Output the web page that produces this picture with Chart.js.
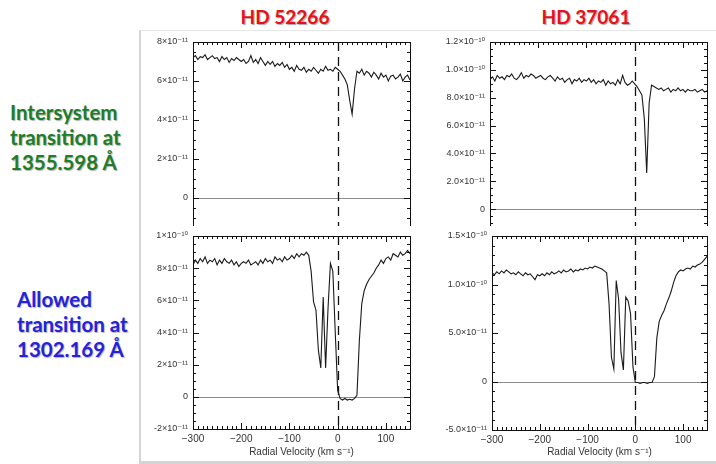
<!DOCTYPE html>
<html>
<head>
<meta charset="utf-8">
<script src="https://cdn.jsdelivr.net/npm/chart.js@4.4.1/dist/chart.umd.min.js"></script>
<style>
  body { margin: 0; background: #fff; width: 716px; height: 464px; overflow: hidden; position: relative; font-family: Lato, "Liberation Sans", sans-serif; }
  canvas { position: absolute; }
  .star { position: absolute; top: 5px; width: 140px; text-align: center; font: bold 19px Lato, sans-serif; color: #e8101a; text-shadow: 1px 1px 1px rgba(0,0,0,0.35); }
  .lab { position: absolute; font: bold 20.5px/25px Lato, sans-serif; text-shadow: 1px 1px 1px rgba(0,0,0,0.3); }
  #box { position: absolute; left: 139px; top: 30px; width: 580px; height: 430px; border-left: 2px solid #d4d4d4; border-top: 1px solid #e6e6e6; border-bottom: 3px solid #d4d4d4; pointer-events: none; z-index: 5; }
</style>
</head>
<body>
<div class="star" style="left:215px">HD 52266</div>
<div class="star" style="left:516px">HD 37061</div>
<div class="lab" style="left:10px; top:100px; color:#1e7d2a">Intersystem<br>transition at<br>1355.598 Å</div>
<div class="lab" style="left:17px; top:287px; color:#2323dc">Allowed<br>transition at<br>1302.169 Å</div>

<canvas id="tl" width="276" height="230" style="left:140px; top:30px"></canvas>
<canvas id="tr" width="296" height="230" style="left:420px; top:30px"></canvas>
<canvas id="bl" width="276" height="238" style="left:140px; top:226px"></canvas>
<canvas id="br" width="296" height="238" style="left:420px; top:226px"></canvas>
<div id="box"></div>

<script>
// radial velocity (km/s)
const velocity = [-300,-295,-290,-285,-280,-275,-270,-265,-260,-255,-250,-245,-240,-235,-230,-225,-220,-215,-210,-205,-200,
  -195,-190,-185,-180,-175,-170,-165,-160,-155,-150,-145,-140,-135,-130,-125,-120,-115,-110,-105,-100,
  -95,-90,-85,-80,-75,-70,-65,-60,-55,-50,-45,-40,-35,-30,-25,-20,-15,-10,-5,0,
  5,10,15,20,25,30,35,40,45,50,55,60,65,70,75,80,85,90,95,100,105,110,115,120,125,130,135,140,145,150];

// flux, units of 1e-11
const fluxHD52266_1355 = [7.2,7.3,7.1,7.25,7.2,7.35,7.1,7.2,7.3,7.15,7.2,7.0,7.25,7.1,7.2,6.95,7.15,7.05,7.2,7.1,7.0,
  7.1,6.9,7.0,7.3,6.95,7.1,6.9,7.2,7.0,6.8,7.0,6.85,7.0,6.75,6.9,6.8,6.95,6.7,6.85,6.6,
  6.7,6.5,6.8,6.6,6.55,6.7,6.45,6.6,6.5,6.7,6.55,6.4,6.6,6.5,6.75,6.55,6.6,6.5,6.7,6.6,
  6.5,6.3,6.1,5.8,5.0,4.3,5.6,6.5,6.4,6.6,6.3,6.5,6.4,6.2,6.45,6.3,6.1,6.4,6.2,6.3,6.0,6.25,6.3,6.1,6.2,6.35,6.0,6.2,6.3,6.05];

const fluxHD37061_1355 = [9.3,9.5,9.2,9.6,9.4,9.5,9.3,9.6,9.5,9.7,9.4,9.3,9.5,9.8,9.4,9.6,9.5,9.7,9.6,9.4,9.5,
  9.6,9.4,9.3,9.5,9.6,9.4,9.2,9.5,9.3,9.4,9.1,9.3,9.4,9.0,9.3,9.2,9.4,9.1,9.3,9.2,
  9.4,9.1,9.3,9.0,9.2,9.1,9.3,8.9,9.2,9.0,9.1,8.9,9.3,9.0,9.6,9.1,8.9,9.0,9.2,9.0,
  8.8,8.5,8.2,6.5,2.6,7.6,8.9,8.8,8.7,8.6,8.7,8.5,8.6,8.7,8.4,8.6,8.5,8.7,8.5,8.6,8.4,8.6,8.5,8.5,8.6,8.4,8.5,8.6,8.4,8.5];

const fluxHD52266_1302 = [8.2,8.5,8.3,8.6,8.4,8.7,8.3,8.5,8.4,8.6,8.2,8.5,8.3,8.6,8.4,8.3,8.5,8.2,8.4,8.1,8.3,
  8.4,8.3,8.5,8.2,8.3,8.4,8.2,8.5,8.3,8.6,8.4,8.5,8.3,8.7,8.5,8.6,8.4,8.7,8.5,8.6,
  8.8,8.6,8.9,8.7,8.9,8.8,9.0,8.8,7.8,5.9,5.4,2.9,1.8,6.2,1.8,5.5,8.3,7.8,4.0,0.4,
  -0.1,-0.2,-0.1,-0.2,-0.15,-0.2,-0.1,0.1,3.5,5.8,6.6,7.0,7.3,7.5,7.7,8.0,8.2,8.5,8.3,8.6,8.7,8.5,8.9,8.8,8.7,9.0,8.8,8.9,9.1,8.9];

const fluxHD37061_1302 = [11.2,11.0,11.3,11.1,11.4,11.2,11.5,11.3,11.1,11.2,11.0,11.3,11.1,10.9,11.2,11.0,11.1,10.8,10.5,11.0,10.9,
  11.1,10.9,11.2,11.0,11.3,11.1,11.2,11.4,11.2,11.5,11.3,11.4,11.6,11.3,11.5,11.4,11.6,11.5,11.7,11.6,
  11.8,11.7,11.9,11.8,11.7,11.6,11.4,11.2,8.0,2.5,1.3,10.4,8.5,3.0,1.2,8.7,8.3,7.0,1.5,-0.1,
  -0.1,-0.2,-0.1,-0.1,-0.2,-0.1,-0.1,0.5,4.5,6.2,6.8,7.3,8.0,8.6,9.3,10.2,10.9,11.3,11.5,11.4,11.6,11.7,11.6,11.9,11.8,12.0,12.1,12.3,12.6,12.9];

// tick labels
const xTicks = [-300, -200, -100, 0, 100];
const xTickLabels = ['\u2212300', '\u2212200', '\u2212100', '0', '100'];
const yTicksTL = [0, 2, 4, 6, 8];
const yLabelsTL = ['0', '2×10⁻¹¹', '4×10⁻¹¹', '6×10⁻¹¹', '8×10⁻¹¹'];
const yTicksTR = [0, 2, 4, 6, 8, 10, 12];
const yLabelsTR = ['0', '2.0×10⁻¹¹', '4.0×10⁻¹¹', '6.0×10⁻¹¹', '8.0×10⁻¹¹', '1.0×10⁻¹⁰', '1.2×10⁻¹⁰'];
const yTicksBL = [-2, 0, 2, 4, 6, 8, 10];
const yLabelsBL = ['-2×10⁻¹¹', '0', '2×10⁻¹¹', '4×10⁻¹¹', '6×10⁻¹¹', '8×10⁻¹¹', '1×10⁻¹⁰'];
const yTicksBR = [-5, 0, 5, 10, 15];
const yLabelsBR = ['-5.0×10⁻¹¹', '0', '5.0×10⁻¹¹', '1.0×10⁻¹⁰', '1.5×10⁻¹⁰'];

const fontFam = "'Liberation Sans', 'DejaVu Sans', sans-serif";

// IDL-style frame: box, inward ticks, zero line, dashed v=0 line
function framePlugin(p) {
  return {
    id: 'frame',
    beforeDraw(chart) {
      if (!p.bg) return;
      const c = chart.ctx;
      c.save(); c.fillStyle = '#fff'; c.fillRect(0, 0, chart.width, chart.height); c.restore();
    },
    beforeDatasetsDraw(chart) {
      const { ctx, chartArea: a, scales: { x, y } } = chart;
      ctx.save();
      ctx.strokeStyle = '#8c8c8c'; ctx.lineWidth = 1;
      const y0 = Math.round(y.getPixelForValue(0)) + 0.5;
      ctx.beginPath(); ctx.moveTo(a.left, y0); ctx.lineTo(a.right, y0); ctx.stroke();
      ctx.strokeStyle = '#111'; ctx.lineWidth = 1.3; ctx.setLineDash([9, 6]);
      const x0 = Math.round(x.getPixelForValue(0)) + 0.5;
      ctx.beginPath(); ctx.moveTo(x0, a.top); ctx.lineTo(x0, a.bottom); ctx.stroke();
      ctx.restore();
    },
    afterDatasetsDraw(chart) {
      const { ctx, chartArea: a, scales: { x, y } } = chart;
      ctx.save();
      ctx.strokeStyle = '#111'; ctx.lineWidth = 1;
      ctx.strokeRect(Math.round(a.left) + 0.5, Math.round(a.top) + 0.5, Math.round(a.right - a.left), Math.round(a.bottom - a.top));
      ctx.beginPath();
      for (let v = x.min; v <= x.max + 0.001; v += 10) {
        const px = Math.round(x.getPixelForValue(v)) + 0.5;
        const L = (Math.abs(v % 100) < 0.01) ? 6 : 3;
        ctx.moveTo(px, a.bottom); ctx.lineTo(px, a.bottom - L);
        ctx.moveTo(px, a.top); ctx.lineTo(px, a.top + L);
      }
      for (let v = y.min; v <= y.max + 0.001; v += p.yMinor) {
        const py = Math.round(y.getPixelForValue(v)) + 0.5;
        const L = p.yTicks.some(m => Math.abs(m - v) < 0.01) ? 6 : 3;
        ctx.moveTo(a.left, py); ctx.lineTo(a.left + L, py);
        ctx.moveTo(a.right, py); ctx.lineTo(a.right - L, py);
      }
      ctx.stroke();
      ctx.restore();
    }
  };
}

function makePanel(id, flux, p) {
  new Chart(document.getElementById(id), {
    type: 'line',
    data: {
      datasets: [{
        data: velocity.map((v, i) => ({ x: v, y: flux[i] })),
        borderColor: '#1a1a1a',
        borderWidth: 1.1,
        pointRadius: 0,
        tension: 0
      }]
    },
    options: {
      responsive: false,
      animation: false,
      events: [],
      layout: { padding: { left: 0, top: p.padTop, right: p.padRight, bottom: p.padBottom } },
      plugins: {
        legend: { display: false },
        tooltip: { enabled: false }
      },
      scales: {
        x: {
          type: 'linear', min: -300, max: 150,
          grid: { display: false, drawTicks: false }, border: { display: false },
          afterBuildTicks: s => { s.ticks = xTicks.map(v => ({ value: v })); },
          ticks: {
            display: p.xLabels, padding: 4, color: '#333', font: { family: fontFam, size: 10 },
            maxRotation: 0, autoSkip: false,
            callback: (v, i) => xTickLabels[i]
          },
          title: {
            display: p.xLabels, text: 'Radial Velocity (km s⁻¹)', color: '#333',
            font: { family: fontFam, size: 10 }, padding: { top: 0, bottom: 0 }
          },
          afterFit: s => { s.height = p.xHeight; s.paddingLeft = 0; s.paddingRight = 0; }
        },
        y: {
          min: p.yMin, max: p.yMax,
          grid: { display: false, drawTicks: false }, border: { display: false },
          afterBuildTicks: s => { s.ticks = p.yTicks.map(v => ({ value: v })); },
          ticks: {
            padding: 5, color: '#333', font: { family: fontFam, size: 9 }, autoSkip: false,
            callback: (v, i) => p.yLabels[i]
          },
          afterFit: s => { s.width = p.yWidth; s.paddingTop = 0; s.paddingBottom = 0; }
        }
      }
    },
    plugins: [framePlugin(p)]
  });
}

makePanel('tl', fluxHD52266_1355, { yMin: -2, yMax: 8, yTicks: yTicksTL, yLabels: yLabelsTL, yMinor: 0.5,
  yWidth: 53, padTop: 12, padRight: 6, padBottom: 0, xHeight: 23, xLabels: false, bg: false });
makePanel('tr', fluxHD37061_1355, { yMin: -2, yMax: 12, yTicks: yTicksTR, yLabels: yLabelsTR, yMinor: 0.5,
  yWidth: 70, padTop: 12, padRight: 9, padBottom: 0, xHeight: 23, xLabels: false, bg: false });
makePanel('bl', fluxHD52266_1302, { yMin: -2, yMax: 10, yTicks: yTicksBL, yLabels: yLabelsBL, yMinor: 0.5,
  yWidth: 53, padTop: 10, padRight: 6, padBottom: 6, xHeight: 29, xLabels: true, bg: true });
makePanel('br', fluxHD37061_1302, { yMin: -5, yMax: 15, yTicks: yTicksBR, yLabels: yLabelsBR, yMinor: 1,
  yWidth: 72, padTop: 10, padRight: 9, padBottom: 6, xHeight: 28, xLabels: true, bg: true });
</script>
</body>
</html>
